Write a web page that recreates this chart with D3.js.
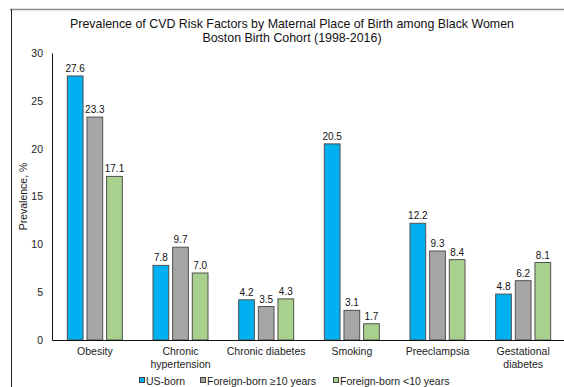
<!DOCTYPE html>
<html>
<head>
<meta charset="utf-8">
<script src="https://cdn.jsdelivr.net/npm/d3@7"></script>
<style>
  html, body { margin: 0; padding: 0; background: #fff; }
  svg { display: block; font-family: "Liberation Sans", Arial, sans-serif; }
</style>
</head>
<body>
<svg id="chart" width="564" height="387"></svg>
<script>
// Risk factors along the x axis
const categories = ["Obesity", "Chronic hypertension", "Chronic diabetes", "Smoking", "Preeclampsia", "Gestational diabetes"];
// Maternal place of birth groups
const seriesNames = ["US-born", "Foreign-born \u226510 years", "Foreign-born <10 years"];
// Prevalence (%) per group, in category order
const usBorn = [27.6, 7.8, 4.2, 20.5, 12.2, 4.8];
const foreignBorn10Plus = [23.3, 9.7, 3.5, 3.1, 9.3, 6.2];
const foreignBornUnder10 = [17.1, 7.0, 4.3, 1.7, 8.4, 8.1];
const yTicks = [0, 5, 10, 15, 20, 25, 30];

const seriesValues = [usBorn, foreignBorn10Plus, foreignBornUnder10];
const colors = ["#00B0F0", "#A6A6A6", "#A9D18E"];

const svg = d3.select("#chart");
const W = 564, H = 387;
const plot = { left: 52, right: 566, top: 53, bottom: 340 };

// Outer frame: grey top rule and black left rule
svg.append("line").attr("x1", 10).attr("x2", W).attr("y1", 9.5).attr("y2", 9.5)
  .attr("stroke", "#8c8c8c").attr("stroke-width", 1.5);
svg.append("line").attr("x1", 11.5).attr("x2", 11.5).attr("y1", 9).attr("y2", H)
  .attr("stroke", "#222").attr("stroke-width", 1);

// Title
const title = svg.append("text").attr("text-anchor", "middle").attr("fill", "#111")
  .attr("font-size", 12.4);
title.append("tspan").attr("x", 292).attr("y", 28)
  .text("Prevalence of CVD Risk Factors by Maternal Place of Birth among Black Women");
title.append("tspan").attr("x", 292).attr("y", 42)
  .text("Boston Birth Cohort (1998-2016)");

const y = d3.scaleLinear().domain([0, 30]).range([plot.bottom, plot.top]);
const x0 = d3.scaleBand().domain(categories).range([plot.left, plot.right]).padding(0);
const bw = x0.bandwidth();
const x1 = d3.scaleBand().domain(d3.range(seriesNames.length))
  .range([bw / 2 - 27.5, bw / 2 + 27.5]).paddingInner(0.2);

// Y axis
const yAxis = d3.axisLeft(y).tickValues(yTicks).tickSize(0).tickPadding(9);
const gy = svg.append("g").attr("transform", `translate(${plot.left},0)`).call(yAxis);
gy.select(".domain").attr("stroke", "#111");
gy.selectAll("text").attr("font-size", 10.5).attr("fill", "#222")
  .attr("font-family", "Liberation Sans, Arial, sans-serif");

svg.append("text")
  .attr("transform", `translate(27,${(plot.top + plot.bottom) / 2}) rotate(-90)`)
  .attr("text-anchor", "middle").attr("font-size", 10.5).attr("fill", "#222")
  .text("Prevalence, %");

// Bars
const groups = svg.append("g").selectAll("g")
  .data(categories).join("g")
  .attr("transform", d => `translate(${x0(d)},0)`);

groups.each(function (cat, ci) {
  const g = d3.select(this);
  seriesValues.forEach((vals, si) => {
    const v = vals[ci];
    g.append("rect")
      .attr("x", x1(si)).attr("width", x1.bandwidth())
      .attr("y", y(v)).attr("height", y(0) - y(v))
      .attr("fill", colors[si]).attr("stroke", "#505050").attr("stroke-width", 1);
    g.append("text")
      .attr("x", x1(si) + x1.bandwidth() / 2).attr("y", y(v) - 4)
      .attr("text-anchor", "middle").attr("font-size", 10).attr("fill", "#111")
      .text(v.toFixed(1));
  });
});

// X axis
const xAxis = d3.axisBottom(x0).tickSize(0).tickPadding(8);
const gx = svg.append("g").attr("transform", `translate(0,${plot.bottom})`).call(xAxis);
gx.select(".domain").attr("stroke", "#111");
gx.selectAll("text").attr("font-size", 10.5).attr("fill", "#222")
  .attr("font-family", "Liberation Sans, Arial, sans-serif")
  .each(function (d) {
    // wrap long category names onto two lines
    const t = d3.select(this);
    const words = d.split(" ");
    t.text(null);
    let line = [], lines = [];
    const probe = t.append("tspan");
    words.forEach(w => {
      line.push(w);
      probe.text(line.join(" "));
      if (probe.node().getComputedTextLength() > bw - 4 && line.length > 1) {
        line.pop();
        lines.push(line.join(" "));
        line = [w];
      }
    });
    lines.push(line.join(" "));
    probe.remove();
    lines.forEach((l, i) => {
      t.append("tspan").attr("x", 0).attr("dy", i === 0 ? "0.71em" : "1.15em").text(l);
    });
  });

// Legend
const legendItems = [
  { x: 139, label: seriesNames[0] },
  { x: 200, label: seriesNames[1] },
  { x: 333, label: seriesNames[2] }
];
const legend = svg.append("g");
legendItems.forEach((it, i) => {
  legend.append("rect").attr("x", it.x + 0.5).attr("y", 377.5).attr("width", 5).attr("height", 5)
    .attr("fill", colors[i]).attr("stroke", "#404040").attr("stroke-width", 1);
  legend.append("text").attr("x", it.x + 7).attr("y", 384.5)
    .attr("font-size", 10.5).attr("fill", "#222").text(it.label);
});
</script>
</body>
</html>
